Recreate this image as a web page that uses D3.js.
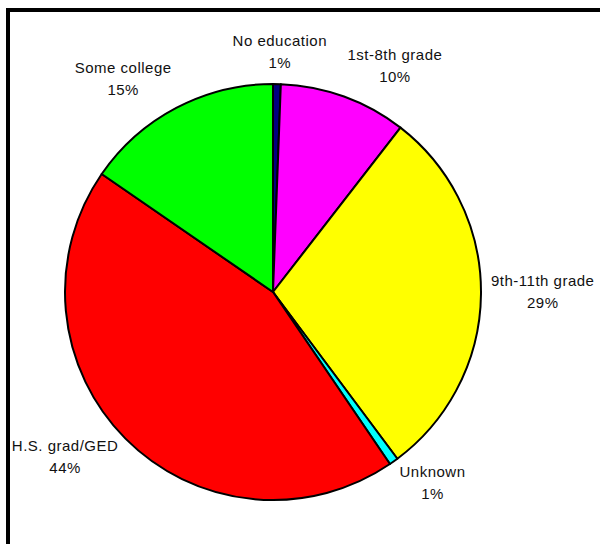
<!DOCTYPE html>
<html>
<head>
<meta charset="utf-8">
<script src="https://cdn.jsdelivr.net/npm/d3@7"></script>
<style>
  body { margin: 0; background: #fff; }
  #chart { width: 600px; height: 544px; }
  .lbl { font-family: "Liberation Sans", Arial, sans-serif; font-size: 15px; letter-spacing: 0.5px; fill: #111; }
</style>
</head>
<body>
<div id="chart"></div>
<script>
// data
const categories = ["No education", "1st-8th grade", "9th-11th grade", "Unknown", "H.S. grad/GED", "Some college"];
const shares = [0.6, 9.9, 29.3, 0.7, 44.1, 15.4];
const colors = ["#000080", "#ff00ff", "#ffff00", "#00ffff", "#ff0000", "#00ff00"];

const width = 600, height = 544;
const svg = d3.select("#chart").append("svg")
    .attr("width", width)
    .attr("height", height);

// outer frame
svg.append("rect")
    .attr("x", 8).attr("y", 10)
    .attr("width", 620).attr("height", 560)
    .attr("fill", "none")
    .attr("stroke", "#000")
    .attr("stroke-width", 4);

const cx = 273, cy = 292, r = 208;
const g = svg.append("g").attr("transform", `translate(${cx},${cy})`);

const data = categories.map((c, i) => ({ name: c, value: shares[i], color: colors[i] }));
const pie = d3.pie().value(d => d.value).sort(null);
const arcs = pie(data);
const arc = d3.arc().innerRadius(0).outerRadius(r);

g.selectAll("path")
    .data(arcs)
    .enter()
    .append("path")
        .attr("d", arc)
        .attr("fill", d => d.data.color)
        .attr("stroke", "#000")
        .attr("stroke-width", 2)
        .attr("stroke-linejoin", "round");

// labels outside
const labelR = r + 10;
g.selectAll("g.lbl")
    .data(arcs)
    .enter()
    .append("g")
    .each(function(d) {
        const a = (d.startAngle + d.endAngle) / 2;
        const sel = d3.select(this);
        const t1 = sel.append("text").attr("class", "lbl").attr("text-anchor", "middle").text(d.data.name);
        const t2 = sel.append("text").attr("class", "lbl").attr("text-anchor", "middle").text(Math.round(d.data.value) + "%");
        const hw = Math.max(t1.node().getComputedTextLength(), t2.node().getComputedTextLength()) / 2;
        const hh = 20;
        const px = labelR * Math.sin(a), py = -labelR * Math.cos(a);
        const k = Math.max(-1, Math.min(1, 3 * Math.sin(a)));
        const x = px + hw * k;
        const y = py - hh * Math.cos(a);
        t1.attr("x", x).attr("y", y - 8.5);
        t2.attr("x", x).attr("y", y + 13.5);
    });
</script>
</body>
</html>
